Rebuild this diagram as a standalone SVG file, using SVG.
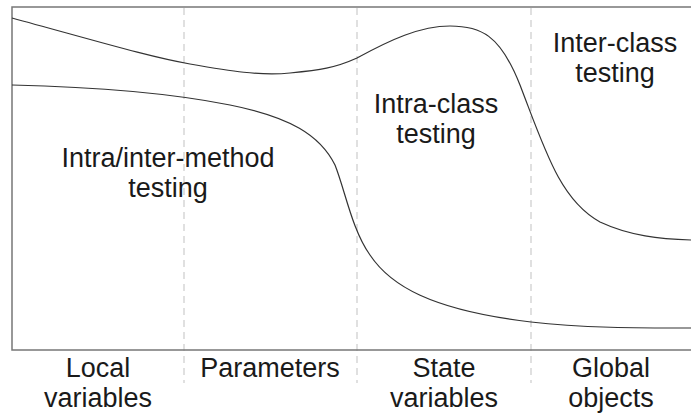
<svg xmlns="http://www.w3.org/2000/svg" width="691" height="416" viewBox="0 0 691 416">
<style>
.frame{stroke:#777;stroke-width:1.5;fill:none}
.div{stroke:#ccc;stroke-width:1.2;stroke-dasharray:7,5;fill:none}
.curve{stroke:#333;stroke-width:1.2;fill:none}
text{font-family:"Liberation Sans",Arial,sans-serif;font-size:27px;fill:#1a1a1a;text-anchor:middle}
</style>
<rect width="691" height="416" fill="#fff"/>
<g id="dividers">
<line class="div" x1="184" y1="8" x2="184" y2="383"/>
<line class="div" x1="357" y1="8" x2="357" y2="383"/>
<line class="div" x1="531" y1="8" x2="531" y2="383"/>
</g>
<g id="frame">
<polyline class="frame" points="691,7 12,7 12,350 691,350"/>
</g>
<g id="connectors">
<path class="curve" d="M12,18 C100,42 150,57 190,64 S260,76 290,73 S335,68 357,58 C390,40 420,26 450,26 C480,26 500,34 520,85 C545,150 560,200 600,222 C630,236 660,239 691,240"/>
<path class="curve" d="M12,85 C100,87 170,93 230,105 C290,117 320,135 335,165 C345,190 352,230 370,255 C390,285 430,310 531,322 C580,328 640,328 691,328"/>
</g>
<g id="region-method"><text x="168" y="167">Intra/inter-method</text><text x="168" y="197">testing</text></g>
<g id="region-intra"><text x="436" y="113">Intra-class</text><text x="436" y="143">testing</text></g>
<g id="region-inter"><text x="615" y="52">Inter-class</text><text x="615" y="82">testing</text></g>
<g id="label-local"><text x="98" y="377">Local</text><text x="98" y="407">variables</text></g>
<g id="label-params"><text x="270" y="377">Parameters</text></g>
<g id="label-state"><text x="444" y="377">State</text><text x="444" y="407">variables</text></g>
<g id="label-global"><text x="611" y="377">Global</text><text x="611" y="407">objects</text></g>
</svg>
